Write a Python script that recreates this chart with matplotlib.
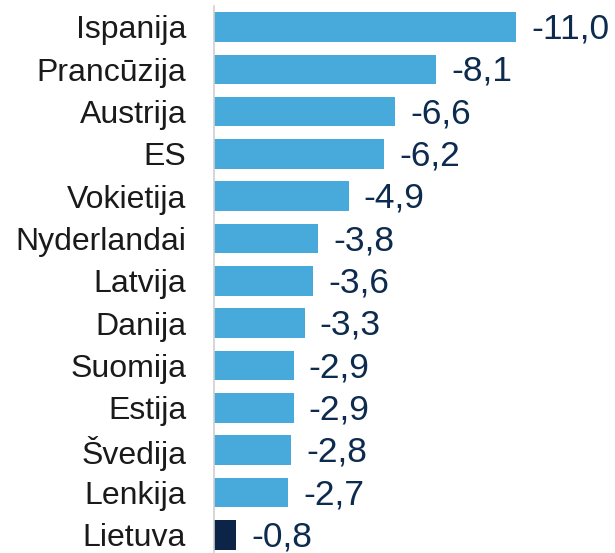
import matplotlib.pyplot as plt

countries = ['Ispanija', 'Prancūzija', 'Austrija', 'ES', 'Vokietija', 'Nyderlandai',
             'Latvija', 'Danija', 'Suomija', 'Estija', 'Švedija', 'Lenkija', 'Lietuva']
values = [-11.0, -8.1, -6.6, -6.2, -4.9, -3.8, -3.6, -3.3, -2.9, -2.9, -2.8, -2.7, -0.8]

plt.rcParams['font.family'] = ['Liberation Sans', 'DejaVu Sans']

fig = plt.figure(figsize=(6.15, 5.53), dpi=100)
ax = fig.add_axes([214 / 615, 0, 401 / 615, 1])

colors = ['#0B2447' if c == 'Lietuva' else '#48AADB' for c in countries]
pos = range(len(countries))
ax.barh(pos, [abs(v) for v in values], height=0.7, color=colors)

for i, v in enumerate(values):
    ax.text(abs(v) + 0.55, i + 0.05, f'{v:.1f}'.replace('.', ','), va='center', ha='left',
            fontsize=25.5, color='#0D2B4E')

ax.set_xlim(0, 14.6)
ax.set_ylim(12.43, -0.638)
ax.set_yticks(list(pos))
ax.set_yticklabels(countries, fontsize=23, color='#1a1a1a')
ax.tick_params(axis='y', length=0, pad=20)
ax.set_xticks([])
for s in ['top', 'right', 'bottom']:
    ax.spines[s].set_visible(False)
ax.spines['left'].set_color('#d0d0d0')
ax.spines['left'].set_linewidth(1.2)
ax.spines['left'].set_bounds(12.5, -0.5)

fig.savefig('out.png', dpi=100)
